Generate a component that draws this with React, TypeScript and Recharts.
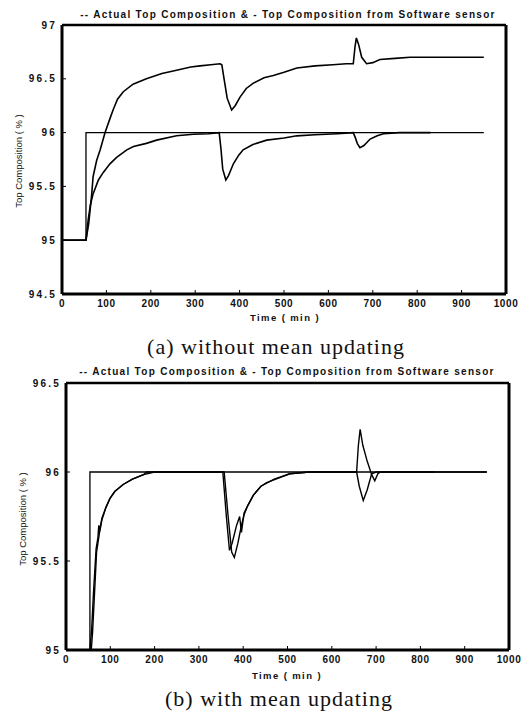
import { LineChart, Line, XAxis, YAxis, ReferenceLine } from 'recharts';

// x axis (minutes)
const X_TICKS = [0, 100, 200, 300, 400, 500, 600, 700, 800, 900, 1000];
const Y_TICKS_A = [94.5, 95, 95.5, 96, 96.5, 97];
const Y_TICKS_B = [95, 95.5, 96, 96.5];

// (a) without mean updating
const A_STEP_T = [0, 54, 54, 950];
const A_STEP_V = [95, 95, 96, 96];
const A_SENSOR_T = [0, 54, 60, 67, 70, 78, 86, 97, 108, 115, 125, 138, 160, 190, 225, 258, 290, 311, 335, 356, 360, 365, 372, 382, 390, 401, 415, 431, 455, 476, 500, 529, 570, 610, 640, 656, 660, 663, 668, 675, 686, 700, 716, 750, 784, 870, 950];
const A_SENSOR_V = [95, 95, 95.15, 95.43, 95.59, 95.74, 95.84, 96.0, 96.13, 96.21, 96.31, 96.38, 96.45, 96.5, 96.55, 96.58, 96.61, 96.62, 96.63, 96.64, 96.63, 96.5, 96.32, 96.21, 96.25, 96.33, 96.41, 96.46, 96.51, 96.53, 96.56, 96.6, 96.62, 96.63, 96.64, 96.64, 96.8, 96.88, 96.82, 96.7, 96.64, 96.65, 96.68, 96.69, 96.7, 96.7, 96.7];
const A_ACTUAL_T = [0, 54, 59, 64, 70, 82, 93, 108, 123, 146, 161, 190, 213, 258, 296, 330, 354, 358, 362, 369, 375, 386, 398, 408, 430, 461, 500, 529, 570, 620, 656, 660, 665, 671, 680, 694, 710, 724, 760, 830];
const A_ACTUAL_V = [95, 95, 95.19, 95.33, 95.43, 95.56, 95.63, 95.71, 95.77, 95.84, 95.87, 95.9, 95.93, 95.97, 95.985, 95.99, 96.0, 95.85, 95.66, 95.56, 95.6, 95.71, 95.79, 95.84, 95.89, 95.93, 95.95, 95.97, 95.98, 95.99, 96.0, 95.96, 95.9, 95.86, 95.88, 95.94, 95.97, 95.99, 96.0, 96.0];

// (b) with mean updating
const B_STEP_T = [0, 54, 54, 950];
const B_STEP_V = [95, 95, 96, 96];
const B_SENSOR_T = [0, 54, 58, 62, 68, 72, 74, 76, 81, 90, 99, 110, 129, 150, 175, 182, 357, 366, 374, 380, 388, 396, 402, 410, 423, 440, 453, 490, 505, 550, 656, 660, 664, 670, 680, 690, 697, 704, 710, 950];
const B_SENSOR_V = [95, 95, 95.12, 95.32, 95.57, 95.63, 95.7, 95.67, 95.74, 95.8, 95.85, 95.89, 95.93, 95.96, 95.985, 96, 96, 95.75, 95.55, 95.52, 95.6, 95.7, 95.76, 95.81, 95.87, 95.92, 95.94, 95.975, 95.99, 96, 96, 96.15, 96.24, 96.15, 96.06, 95.985, 95.95, 95.99, 96, 96];
const B_ACTUAL_T = [0, 57, 60, 64, 69, 75, 81, 90, 99, 110, 129, 150, 175, 200, 354, 362, 369, 375, 385, 392, 396, 402, 410, 423, 440, 470, 505, 550, 656, 662, 671, 680, 690, 700, 830];
const B_ACTUAL_V = [95, 95, 95.1, 95.3, 95.55, 95.65, 95.73, 95.8, 95.85, 95.89, 95.93, 95.96, 95.985, 96, 96, 95.75, 95.56, 95.6, 95.7, 95.75, 95.66, 95.77, 95.81, 95.87, 95.92, 95.96, 95.99, 96, 96, 95.92, 95.84, 95.9, 95.99, 96, 96];

const TITLE = '-- Actual Top Composition & - Top Composition from Software sensor';
const Y_LABEL = 'Top Composition ( % )';
const X_LABEL = 'Time ( min )';

const SANS = '"Liberation Sans", Arial, sans-serif';
const SERIF = '"Liberation Serif", "Times New Roman", serif';

const zip = (t: number[], v: number[]) => t.map((x, i) => ({ t: x, v: v[i] }));

const xTickStyle = { fontSize: 10, fontWeight: 700, fill: '#111', fontFamily: SANS, letterSpacing: 0.6 };
const yTickStyle = { fontSize: 10, fontWeight: 700, fill: '#111', fontFamily: SANS, letterSpacing: 2.2 };

interface PanelProps {
  top: number;
  height: number;
  margin: { top: number; right: number; bottom: number; left: number };
  yWidth: number;
  yDomain: [number, number];
  yTicks: number[];
  lines: { t: number[]; v: number[]; w: number }[];
}

function Panel({ top, height, margin, yWidth, yDomain, yTicks, lines }: PanelProps) {
  return (
    <div style={{ position: 'absolute', left: 0, top }}>
      <LineChart width={521} height={height} margin={margin}>
        <XAxis
          dataKey="t"
          type="number"
          domain={[0, 1000]}
          ticks={X_TICKS}
          height={24}
          tick={xTickStyle}
          tickSize={-4}
          tickMargin={10}
          axisLine={{ stroke: '#000', strokeWidth: 3 }}
          tickLine={{ stroke: '#000' }}
          interval={0}
        />
        <YAxis
          type="number"
          domain={yDomain}
          ticks={yTicks}
          width={yWidth}
          tick={yTickStyle}
          tickSize={-4}
          tickMargin={9}
          axisLine={{ stroke: '#000', strokeWidth: 3 }}
          tickLine={{ stroke: '#000' }}
          interval={0}
        />
        {/* frame: top and right edges */}
        <ReferenceLine y={yDomain[1]} stroke="#000" strokeWidth={2.5} />
        <ReferenceLine x={1000} stroke="#000" strokeWidth={3} />
        {lines.map((l, i) => (
          <Line
            key={i}
            data={zip(l.t, l.v)}
            dataKey="v"
            type="linear"
            stroke="#000"
            strokeWidth={l.w}
            dot={false}
            activeDot={false}
            isAnimationActive={false}
          />
        ))}
      </LineChart>
    </div>
  );
}

function Txt({ x, y, size, font, weight, spacing, rotate, children }: any) {
  return (
    <div
      style={{
        position: 'absolute',
        left: x,
        top: y,
        transform: `translate(-50%, -50%)${rotate ? ' rotate(-90deg)' : ''}`,
        whiteSpace: 'nowrap',
        fontSize: size,
        fontFamily: font,
        fontWeight: weight || 400,
        letterSpacing: spacing || 0,
        color: '#111',
        lineHeight: 1,
      }}
    >
      {children}
    </div>
  );
}

export default function App() {
  return (
    <div style={{ position: 'absolute', left: 0, top: 0, width: 521, height: 712, background: '#fff', overflow: 'hidden' }}>
      <Panel
        top={0}
        height={330}
        margin={{ top: 25, right: 15, bottom: 12, left: 0 }}
        yWidth={62}
        yDomain={[94.5, 97]}
        yTicks={Y_TICKS_A}
        lines={[
          { t: A_STEP_T, v: A_STEP_V, w: 1.3 },
          { t: A_SENSOR_T, v: A_SENSOR_V, w: 1.6 },
          { t: A_ACTUAL_T, v: A_ACTUAL_V, w: 1.6 },
        ]}
      />
      <Txt x={288} y={15} size={10} font={SANS} weight={700} spacing={1.3}>{TITLE}</Txt>
      <Txt x={19} y={161} size={9.5} font={SANS} rotate>{Y_LABEL}</Txt>
      <Txt x={285} y={318} size={9.5} font={SANS} weight={700} spacing={1.4}>{X_LABEL}</Txt>
      <Txt x={276} y={347} size={22} font={SERIF} spacing={1}>(a) without mean updating</Txt>

      <Panel
        top={350}
        height={340}
        margin={{ top: 33, right: 12, bottom: 16, left: 0 }}
        yWidth={66}
        yDomain={[95, 96.5]}
        yTicks={Y_TICKS_B}
        lines={[
          { t: B_STEP_T, v: B_STEP_V, w: 1.3 },
          { t: B_SENSOR_T, v: B_SENSOR_V, w: 1.4 },
          { t: B_ACTUAL_T, v: B_ACTUAL_V, w: 1.4 },
        ]}
      />
      <Txt x={287} y={372} size={10} font={SANS} weight={700} spacing={1.3}>{TITLE}</Txt>
      <Txt x={23} y={519} size={9.5} font={SANS} rotate>{Y_LABEL}</Txt>
      <Txt x={287} y={676} size={9.5} font={SANS} weight={700} spacing={1.4}>{X_LABEL}</Txt>
      <Txt x={279} y={699} size={22} font={SERIF} spacing={1}>(b) with mean updating</Txt>
    </div>
  );
}
